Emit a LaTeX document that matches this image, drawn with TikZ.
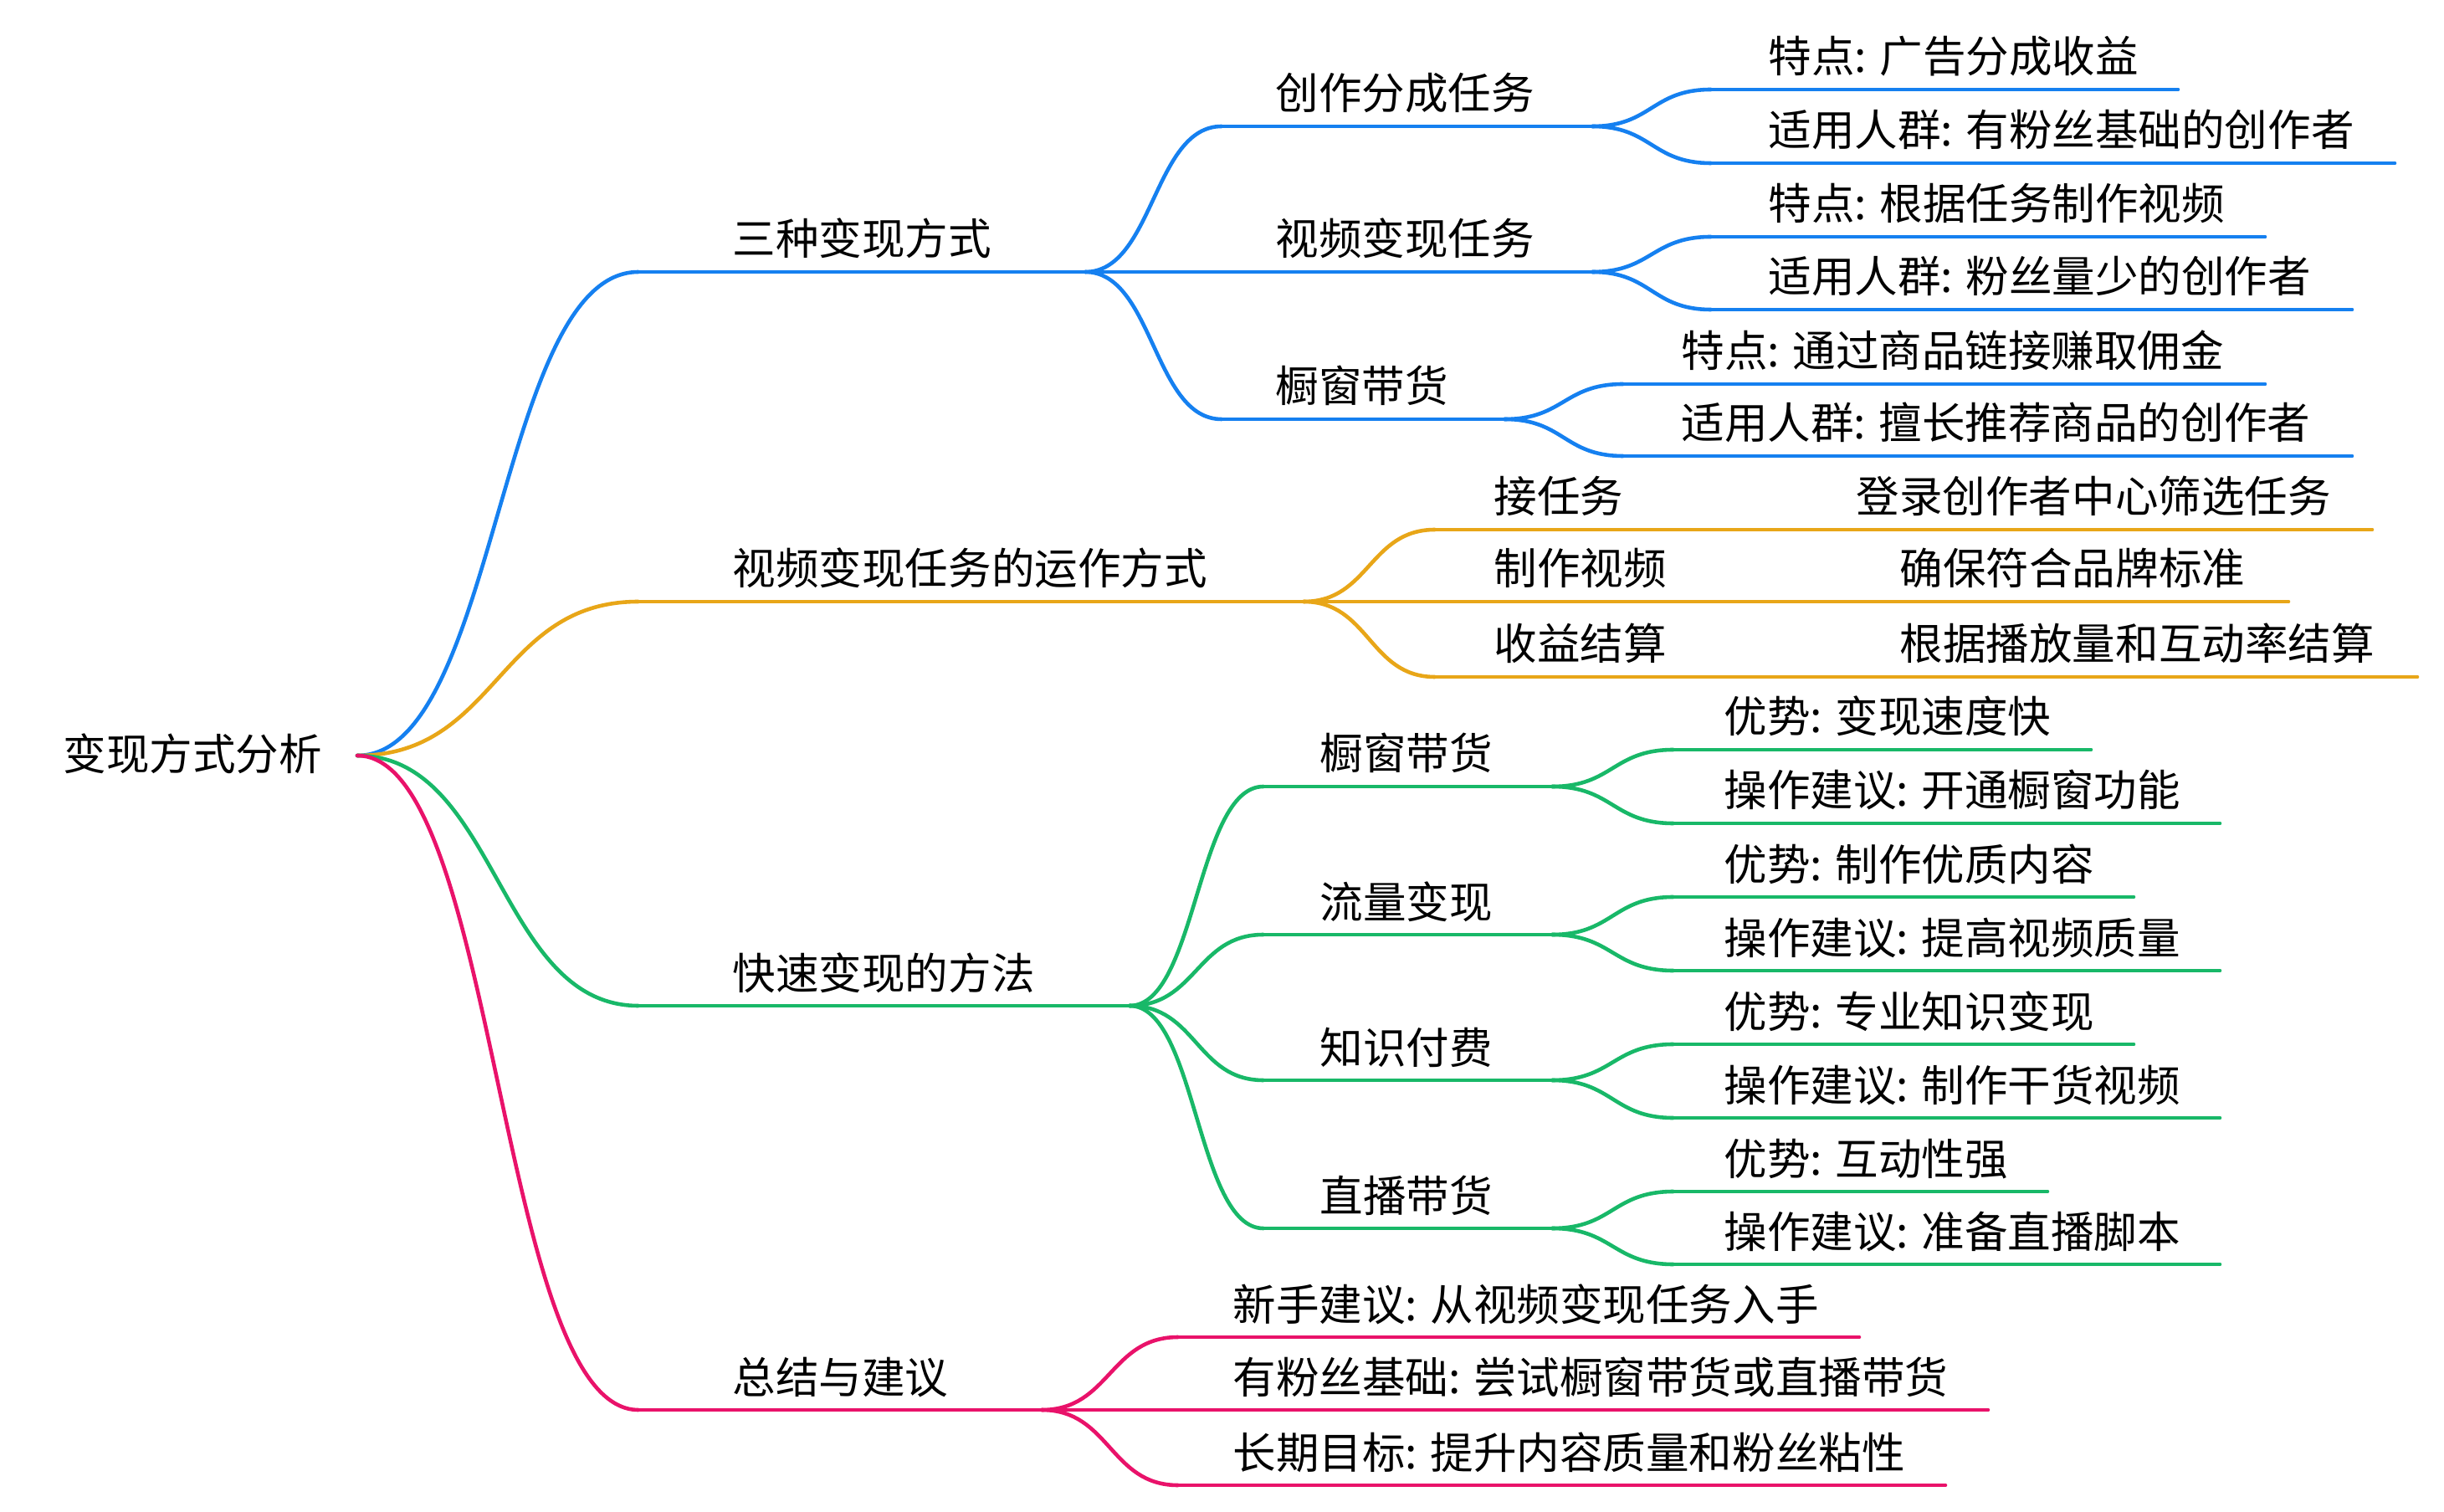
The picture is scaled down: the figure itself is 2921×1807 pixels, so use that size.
\documentclass[tikz,border=0pt]{standalone}
\usepackage{fontspec}
\newfontfamily\cjk{Noto Sans CJK SC}
\usetikzlibrary{calc}
\definecolor{cb}{RGB}{21,128,240}
\definecolor{co}{RGB}{232,166,24}
\definecolor{cg}{RGB}{24,184,104}
\definecolor{cp}{RGB}{233,18,106}
\begin{document}
\begin{tikzpicture}[x=0.01cm,y=-0.01cm,
  txt/.style={anchor=base west, inner sep=0pt, text=black, font=\cjk\fontsize{14.66pt}{16pt}\selectfont},
  ln/.style={line width=1.3pt, line cap=round},
  link/.style={ln, to path={let \p1=(\tikztostart), \p2=(\tikztotarget) in .. controls ({0.5*\x1+0.5*\x2},\y1) and ({0.5*\x1+0.5*\x2},\y2) .. (\tikztotarget)}}]
\useasboundingbox (0,0) rectangle (2921,1807);
\fill[white] (0,0) rectangle (2921,1807);

% root
\node[txt] (R) at (75,921) {变现方式分析};
\coordinate (Rp) at (427,903);

% level 1
\node[txt] (A) at (875,305) {三种变现方式};
\coordinate (As) at (763,325); \coordinate (Ae) at (1297,325);
\node[txt] (B) at (875,699) {视频变现任务的运作方式};
\coordinate (Bs) at (763,719); \coordinate (Be) at (1558,719);
\node[txt] (C) at (875,1182) {快速变现的方法};
\coordinate (Cs) at (763,1202); \coordinate (Ce) at (1350,1202);
\node[txt] (D) at (875,1665) {总结与建议};
\coordinate (Ds) at (763,1685); \coordinate (De) at (1245,1685);

\draw[link,cb] (Rp) to (As); \draw[ln,cb] (As) -- (Ae);
\draw[link,co] (Rp) to (Bs); \draw[ln,co] (Bs) -- (Be);
\draw[link,cg] (Rp) to (Cs); \draw[ln,cg] (Cs) -- (Ce);
\draw[link,cp] (Rp) to (Ds); \draw[ln,cp] (Ds) -- (De);

% blue level 2
\node[txt] (A1) at (1524,131) {创作分成任务};
\coordinate (A1s) at (1460,151); \coordinate (A1e) at (1903,151);
\node[txt] (A2) at (1524,305) {视频变现任务};
\coordinate (A2s) at (1460,325); \coordinate (A2e) at (1903,325);
\node[txt] (A3) at (1524,481) {橱窗带货};
\coordinate (A3s) at (1460,501); \coordinate (A3e) at (1798,501);
\foreach \k in {A1,A2,A3}{\draw[link,cb] (Ae) to (\k s); \draw[ln,cb] (\k s) -- (\k e);}

% blue level 3
\node[txt] (A1a) at (2113,87) {特点: 广告分成收益};
\coordinate (A1as) at (2045,107); \coordinate (A1ae) at (2603,107);
\node[txt] (A1b) at (2113,175) {适用人群: 有粉丝基础的创作者};
\coordinate (A1bs) at (2045,195); \coordinate (A1be) at (2862,195);
\node[txt] (A2a) at (2113,263) {特点: 根据任务制作视频};
\coordinate (A2as) at (2045,283); \coordinate (A2ae) at (2707,283);
\node[txt] (A2b) at (2113,350) {适用人群: 粉丝量少的创作者};
\coordinate (A2bs) at (2045,370); \coordinate (A2be) at (2811,370);
\node[txt] (A3a) at (2009,439) {特点: 通过商品链接赚取佣金};
\coordinate (A3as) at (1940,459); \coordinate (A3ae) at (2707,459);
\node[txt] (A3b) at (2009,525) {适用人群: 擅长推荐商品的创作者};
\coordinate (A3bs) at (1940,545); \coordinate (A3be) at (2811,545);
\foreach \ka in {A1,A2,A3}{\foreach \kb in {a,b}{
  \draw[link,cb] (\ka e) to (\ka\kb s); \draw[ln,cb] (\ka\kb s) -- (\ka\kb e);}}

% orange level 2
\node[txt] (B1) at (1785,613) {接任务};
\coordinate (B1s) at (1715,633); \coordinate (B1e) at (2010,633);
\node[txt] (B2) at (1785,699) {制作视频};
\coordinate (B2s) at (1715,719); \coordinate (B2e) at (2061,719);
\node[txt] (B3) at (1785,789) {收益结算};
\coordinate (B3s) at (1715,809); \coordinate (B3e) at (2061,809);
\foreach \k in {B1,B2,B3}{\draw[link,co] (Be) to (\k s); \draw[ln,co] (\k s) -- (\k e);}

% orange level 3
\node[txt] (B1a) at (2218,613) {登录创作者中心筛选任务};
\coordinate (B1as) at (2165,633); \coordinate (B1ae) at (2835,633);
\node[txt] (B2a) at (2270,699) {确保符合品牌标准};
\coordinate (B2as) at (2216,719); \coordinate (B2ae) at (2735,719);
\node[txt] (B3a) at (2270,789) {根据播放量和互动率结算};
\coordinate (B3as) at (2216,809); \coordinate (B3ae) at (2889,809);
\foreach \k in {B1,B2,B3}{\draw[link,co] (\k e) to (\k as); \draw[ln,co] (\k as) -- (\k ae);}

% green level 2
\node[txt] (C1) at (1577,920) {橱窗带货};
\coordinate (C1s) at (1510,940); \coordinate (C1e) at (1855,940);
\node[txt] (C2) at (1577,1097) {流量变现};
\coordinate (C2s) at (1510,1117); \coordinate (C2e) at (1855,1117);
\node[txt] (C3) at (1577,1271) {知识付费};
\coordinate (C3s) at (1510,1291); \coordinate (C3e) at (1855,1291);
\node[txt] (C4) at (1577,1448) {直播带货};
\coordinate (C4s) at (1510,1468); \coordinate (C4e) at (1855,1468);
\foreach \k in {C1,C2,C3,C4}{\draw[link,cg] (Ce) to (\k s); \draw[ln,cg] (\k s) -- (\k e);}

% green level 3
\node[txt] (C1a) at (2060,876) {优势: 变现速度快};
\coordinate (C1as) at (2000,896); \coordinate (C1ae) at (2499,896);
\node[txt] (C1b) at (2060,964) {操作建议: 开通橱窗功能};
\coordinate (C1bs) at (2000,984); \coordinate (C1be) at (2653,984);
\node[txt] (C2a) at (2060,1052) {优势: 制作优质内容};
\coordinate (C2as) at (2000,1072); \coordinate (C2ae) at (2550,1072);
\node[txt] (C2b) at (2060,1140) {操作建议: 提高视频质量};
\coordinate (C2bs) at (2000,1160); \coordinate (C2be) at (2653,1160);
\node[txt] (C3a) at (2060,1228) {优势: 专业知识变现};
\coordinate (C3as) at (2000,1248); \coordinate (C3ae) at (2550,1248);
\node[txt] (C3b) at (2060,1316) {操作建议: 制作干货视频};
\coordinate (C3bs) at (2000,1336); \coordinate (C3be) at (2653,1336);
\node[txt] (C4a) at (2060,1404) {优势: 互动性强};
\coordinate (C4as) at (2000,1424); \coordinate (C4ae) at (2447,1424);
\node[txt] (C4b) at (2060,1491) {操作建议: 准备直播脚本};
\coordinate (C4bs) at (2000,1511); \coordinate (C4be) at (2653,1511);
\foreach \ka in {C1,C2,C3,C4}{\foreach \kb in {a,b}{
  \draw[link,cg] (\ka e) to (\ka\kb s); \draw[ln,cg] (\ka\kb s) -- (\ka\kb e);}}

% pink level 2
\node[txt] (D1) at (1473,1578) {新手建议: 从视频变现任务入手};
\coordinate (D1s) at (1408,1598); \coordinate (D1e) at (2222,1598);
\node[txt] (D2) at (1473,1665) {有粉丝基础: 尝试橱窗带货或直播带货};
\coordinate (D2s) at (1408,1685); \coordinate (D2e) at (2376,1685);
\node[txt] (D3) at (1473,1755) {长期目标: 提升内容质量和粉丝粘性};
\coordinate (D3s) at (1408,1775); \coordinate (D3e) at (2325,1775);
\foreach \k in {D1,D2,D3}{\draw[link,cp] (De) to (\k s); \draw[ln,cp] (\k s) -- (\k e);}
\end{tikzpicture}
\end{document}
